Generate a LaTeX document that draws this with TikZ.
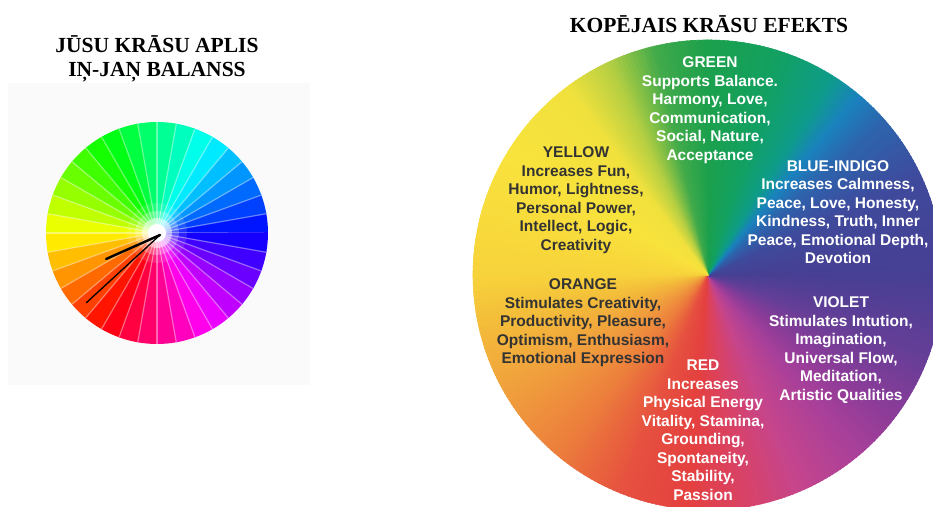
\documentclass[tikz,border=0pt]{standalone}
\usepackage{fontspec}
\setmainfont{Liberation Serif}
\newfontfamily\wheelfont{Liberation Sans}
\definecolor{ink}{HTML}{333333}
\definecolor{cSun}{HTML}{F7D33B}
\definecolor{cAmber}{HTML}{F3B83A}
\definecolor{cTang}{HTML}{F0A03D}
\definecolor{cOrange}{HTML}{EC7E3C}
\definecolor{cVermil}{HTML}{E6523F}
\definecolor{cRed}{HTML}{E4403F}
\definecolor{cRose}{HTML}{D84268}
\definecolor{cMagenta}{HTML}{C6458C}
\definecolor{cPlum}{HTML}{A9409A}
\definecolor{cPurple}{HTML}{8B3C98}
\definecolor{cViolet}{HTML}{643E97}
\definecolor{cIndigo}{HTML}{473F93}
\definecolor{cNavy}{HTML}{3F4A9C}
\definecolor{cBlue}{HTML}{2C66AE}
\definecolor{cSky}{HTML}{1A82BE}
\definecolor{cTeal}{HTML}{0E9C8A}
\definecolor{cJade}{HTML}{12A062}
\definecolor{cGreen}{HTML}{1BA04C}
\definecolor{cLeaf}{HTML}{40AA4A}
\definecolor{cLime}{HTML}{B5CF42}
\definecolor{cLemon}{HTML}{F1E13D}
\definecolor{cYellow}{HTML}{F9E23C}
\begin{document}
\begin{tikzpicture}[x=1pt, y=1pt,
  title/.style={font=\fontsize{21.5}{24}\selectfont\bfseries, align=center},
  effect/.style={font=\wheelfont\bfseries\fontsize{15.5}{18.5}\selectfont, align=center, text=white},
  dark/.style={text=ink}]
\useasboundingbox (0,0) rectangle (933,506);
\fill[black!2] (8,121) rectangle (310,423);
\coordinate (hub) at (157,273);
\coordinate (pin) at (160,271);
\foreach \k in {0,...,35}{
  \pgfmathsetmacro\s{10*\k}
  \pgfmathsetmacro\h{mod(595-\s,360)}
  \definecolor{spoke}{Hsb}{\h,1,1}
  \fill[spoke] (hub) -- ++(\s:111) arc[start angle=\s, end angle=\s+10.4, radius=111] -- cycle;
  \draw[white, opacity=.4, line width=1.2] (hub) -- ++(\s:111);
}
\foreach \r/\o in {30/.12, 22/.25, 15/.5, 9/1}
  \fill[white, opacity=\o] (hub) circle (\r);
\draw[line width=2.4, line cap=round] (pin) -- ++(204:59);
\draw[line width=1.3, line cap=round] (pin) -- ++(222.6:100);
\node[title] (yours) at (157,447) {JŪSU KRĀSU APLIS\\IŅ-JAŅ BALANSS};

\begin{scope}
\clip (0,0) rectangle (933,506);
\coordinate (mix) at (708,231);
\foreach \a/\b/\ca/\cb in {-180/-165/cSun/cAmber, -165/-150/cAmber/cTang, -150/-130/cTang/cOrange,
  -130/-112/cOrange/cVermil, -112/-95/cVermil/cRed, -95/-80/cRed/cRose, -80/-67/cRose/cMagenta,
  -67/-50/cMagenta/cPlum, -50/-37/cPlum/cPurple, -37/-20/cPurple/cViolet, -20/0/cViolet/cIndigo,
  0/25/cIndigo/cNavy, 25/42/cNavy/cBlue, 42/50/cBlue/cSky, 50/58/cSky/cTeal, 58/72/cTeal/cJade,
  72/90/cJade/cGreen, 90/103/cGreen/cLeaf, 103/115/cLeaf/cLime, 115/127/cLime/cLemon,
  127/150/cLemon/cYellow, 150/180/cYellow/cSun}{
  \pgfmathtruncatemacro\n{\b-\a-1}
  \foreach \t in {0,...,\n}{
    \pgfmathsetmacro\s{\a+\t}
    \pgfmathtruncatemacro\p{100*(\t+0.5)/(\b-\a)}
    \filldraw[fill=\cb!\p!\ca, draw=\cb!\p!\ca, line width=.6] (mix) -- ++(\s:235) arc[start angle=\s, end angle=\s+1.3, radius=235] -- cycle;
  }
}
\end{scope}
\node[title] (total) at (709,482) {KOPĒJAIS KRĀSU EFEKTS};
\node[effect] (green) at (710,396) {GREEN\\Supports Balance.\\Harmony, Love,\\Communication,\\Social, Nature,\\Acceptance};
\node[effect, dark] (yellow) at (576,306) {YELLOW\\Increases Fun,\\Humor, Lightness,\\Personal Power,\\Intellect, Logic,\\Creativity};
\node[effect] (indigo) at (838,294) {BLUE-INDIGO\\Increases Calmness,\\Peace, Love, Honesty,\\Kindness, Truth, Inner\\Peace, Emotional Depth,\\Devotion};
\node[effect, dark] (orange) at (583,183) {ORANGE\\Stimulates Creativity,\\Productivity, Pleasure,\\Optimism, Enthusiasm,\\Emotional Expression};
\node[effect] (red) at (703,76) {RED\\Increases\\Physical Energy\\Vitality, Stamina,\\Grounding,\\Spontaneity,\\Stability,\\Passion};
\node[effect] (violet) at (841,156) {VIOLET\\Stimulates Intution,\\Imagination,\\Universal Flow,\\Meditation,\\Artistic Qualities};
\end{tikzpicture}
\end{document}
